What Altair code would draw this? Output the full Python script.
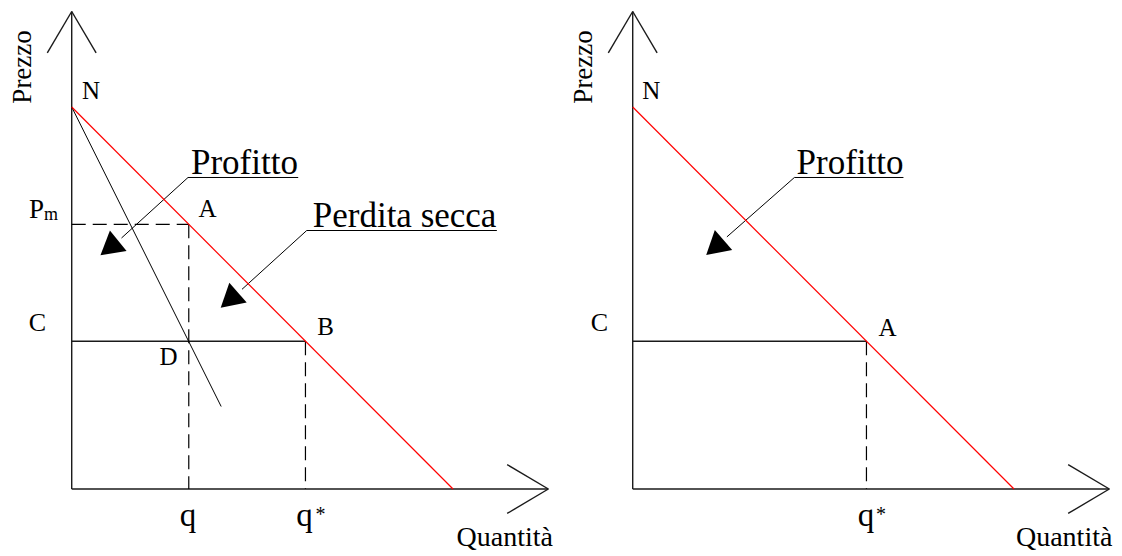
import altair as alt
import pandas as pd

FONT = "Liberation Serif"

# ---------------- economic values (data units: quantity / price) ----------------
N_PRICE = 10.0            # point N: demand intercept on the price axis
Q_DEMAND_END = 10.0       # demand intercept on the quantity axis
C_COST = 3.87             # constant cost level C
Q_MONO = 3.07             # monopoly quantity q
P_MONO = 6.93             # monopoly price P_m
Q_STAR = 6.13             # competitive quantity q*
MR_END = [3.92, 2.16]     # end of the drawn marginal-revenue line
AXIS_LEN = 12.5           # length of both axes
ARROW_BACK = 1.08         # open arrow-head length
ARROW_HALF = 0.64         # open arrow-head half width

# ---------------- view window (data units) ----------------
X_MIN = -1.671
Y_MAX = 12.592
LEFT_W, RIGHT_W, PANEL_H = 561, 545, 544
Y_MIN = Y_MAX - PANEL_H / 38.2
LEFT_XMAX = X_MIN + LEFT_W / 38.13
RIGHT_XMAX = X_MIN + RIGHT_W / 38.13

# ---------------- annotations: [text x, text y, underline x1, x2, y, leader end x, y, head x, y, head angle]
LEFT_PROFITTO = [4.53, 8.246, 3.05, 5.94, 8.155, 1.306, 6.571, 1.065, 6.374, 231]
LEFT_PERDITA = [8.73, 6.85, 6.163, 11.15, 6.767, 4.466, 5.228, 4.21, 5.01, 229]
RIGHT_PROFITTO = [5.70, 8.246, 4.24, 7.10, 8.155, 2.47, 6.60, 2.23, 6.39, 229]

# ---------------- labels ----------------
LEFT_MID_TEXT = ["N", "A", "C", "D", "B", "P", "m", "*", "Prezzo"]
LEFT_MID_X = [0.506, 3.56, -0.897, 2.54, 6.656, -0.923, -0.543, 6.525, -1.277]
LEFT_MID_Y = [10.42, 7.34, 4.35, 3.455, 4.24, 7.30, 7.17, -0.675, 11.05]
LEFT_MID_SIZE = [25, 25, 26, 25, 25, 27, 18, 20, 27]
LEFT_MID_ANGLE = [0, 0, 0, 0, 0, 0, 0, 0, 270]

RIGHT_MID_TEXT = ["N", "C", "A", "*", "Prezzo"]
RIGHT_MID_X = [0.49, -0.87, 6.68, 6.51, -1.29]
RIGHT_MID_Y = [10.42, 4.35, 4.21, -0.675, 11.05]
RIGHT_MID_SIZE = [25, 26, 25, 20, 27]
RIGHT_MID_ANGLE = [0, 0, 0, 0, 270]

LEFT_BASE_TEXT = ["q", "q", "Profitto", "Perdita secca"]
LEFT_BASE_X = [3.05, 6.105, LEFT_PROFITTO[0], LEFT_PERDITA[0]]
LEFT_BASE_Y = [-0.969, -0.969, LEFT_PROFITTO[1], LEFT_PERDITA[1]]
LEFT_BASE_SIZE = [33, 33, 35, 35]

RIGHT_BASE_TEXT = ["q", "Profitto"]
RIGHT_BASE_X = [6.12, RIGHT_PROFITTO[0]]
RIGHT_BASE_Y = [-0.969, RIGHT_PROFITTO[1]]
RIGHT_BASE_SIZE = [33, 35]

AXIS_TITLE_X = "Quantità"
LEFT_QTY_X, RIGHT_QTY_X, QTY_Y, QTY_SIZE = 12.62, 12.58, -1.50, 28


def axes_segments():
    L = AXIS_LEN
    return [
        (0, 0, 0, L), (0, 0, L, 0),
        (0, L, -ARROW_HALF, L - ARROW_BACK), (0, L, ARROW_HALF, L - ARROW_BACK),
        (L, 0, L - ARROW_BACK, ARROW_HALF), (L, 0, L - ARROW_BACK, -ARROW_HALF),
        (0, C_COST, Q_STAR, C_COST),
    ]


def note_segments(a):
    return [(a[2], a[4], a[3], a[4]), (a[2], a[4], a[5], a[6])]


def seg_df(rows):
    return pd.DataFrame(rows, columns=["x", "y", "x2", "y2"])


def panel(xmax, width, thick, thin, dashed, heads, mid, base, qty_x):
    xs = alt.Scale(domain=[X_MIN, xmax], nice=False, zero=False)
    ys = alt.Scale(domain=[Y_MIN, Y_MAX], nice=False, zero=False)
    X = lambda f: alt.X(f, type="quantitative", scale=xs, axis=None)
    Y = lambda f: alt.Y(f, type="quantitative", scale=ys, axis=None)

    def rules(df, **kw):
        return alt.Chart(df).mark_rule(**kw).encode(
            x=X("x"), y=Y("y"), x2="x2", y2="y2")

    red = seg_df([(0, N_PRICE, Q_DEMAND_END, 0)])
    layers = [
        rules(seg_df(thick), color="#1a1a1a", strokeWidth=1.4),
        rules(seg_df(thin), color="#000000", strokeWidth=1.0),
        rules(seg_df(dashed), color="#000000", strokeWidth=1.2, strokeDash=[14, 7]),
        rules(red, color="#ff0000", strokeWidth=1.2),
        alt.Chart(heads).mark_point(shape="triangle", filled=True, size=700,
                                    color="#000000", opacity=1).encode(
            x=X("x"), y=Y("y"), angle=alt.Angle("angle:Q", scale=None)),
        alt.Chart(mid).mark_text(font=FONT, align="center", baseline="middle",
                                 color="#000000").encode(
            x=X("x"), y=Y("y"), text="text:N",
            size=alt.Size("size:Q", scale=None, legend=None),
            angle=alt.Angle("angle:Q", scale=None)),
        alt.Chart(base).mark_text(font=FONT, align="center", baseline="alphabetic",
                                  color="#000000").encode(
            x=X("x"), y=Y("y"), text="text:N",
            size=alt.Size("size:Q", scale=None, legend=None)),
        alt.Chart(pd.DataFrame({"x": [qty_x], "y": [QTY_Y], "text": [AXIS_TITLE_X]}))
        .mark_text(font=FONT, align="right", baseline="alphabetic", fontSize=QTY_SIZE,
                   color="#000000", clip=True).encode(x=X("x"), y=Y("y"), text="text:N"),
    ]
    return alt.layer(*layers).properties(
        width=width, height=PANEL_H,
        view=alt.ViewBackground(stroke="transparent", strokeWidth=0),
    )


left = panel(
    LEFT_XMAX, LEFT_W,
    thick=axes_segments(),
    thin=[(0, N_PRICE, MR_END[0], MR_END[1])] + note_segments(LEFT_PROFITTO) + note_segments(LEFT_PERDITA),
    dashed=[(0, P_MONO, Q_MONO, P_MONO), (Q_MONO, P_MONO, Q_MONO, 0), (Q_STAR, C_COST, Q_STAR, 0)],
    heads=pd.DataFrame({"x": [LEFT_PROFITTO[7], LEFT_PERDITA[7]],
                        "y": [LEFT_PROFITTO[8], LEFT_PERDITA[8]],
                        "angle": [LEFT_PROFITTO[9], LEFT_PERDITA[9]]}),
    mid=pd.DataFrame({"text": LEFT_MID_TEXT, "x": LEFT_MID_X, "y": LEFT_MID_Y,
                      "size": LEFT_MID_SIZE, "angle": LEFT_MID_ANGLE}),
    base=pd.DataFrame({"text": LEFT_BASE_TEXT, "x": LEFT_BASE_X, "y": LEFT_BASE_Y,
                       "size": LEFT_BASE_SIZE}),
    qty_x=LEFT_QTY_X,
)

right = panel(
    RIGHT_XMAX, RIGHT_W,
    thick=axes_segments(),
    thin=note_segments(RIGHT_PROFITTO),
    dashed=[(Q_STAR, C_COST, Q_STAR, 0)],
    heads=pd.DataFrame({"x": [RIGHT_PROFITTO[7]], "y": [RIGHT_PROFITTO[8]],
                        "angle": [RIGHT_PROFITTO[9]]}),
    mid=pd.DataFrame({"text": RIGHT_MID_TEXT, "x": RIGHT_MID_X, "y": RIGHT_MID_Y,
                      "size": RIGHT_MID_SIZE, "angle": RIGHT_MID_ANGLE}),
    base=pd.DataFrame({"text": RIGHT_BASE_TEXT, "x": RIGHT_BASE_X, "y": RIGHT_BASE_Y,
                       "size": RIGHT_BASE_SIZE}),
    qty_x=RIGHT_QTY_X,
)

chart = alt.hconcat(left, right, spacing=0, bounds="flush").properties(
    padding=0
).configure_view(stroke="transparent", strokeWidth=0).configure(background="white")

chart.save("out.html", embed_options={"renderer": "svg", "actions": False})
